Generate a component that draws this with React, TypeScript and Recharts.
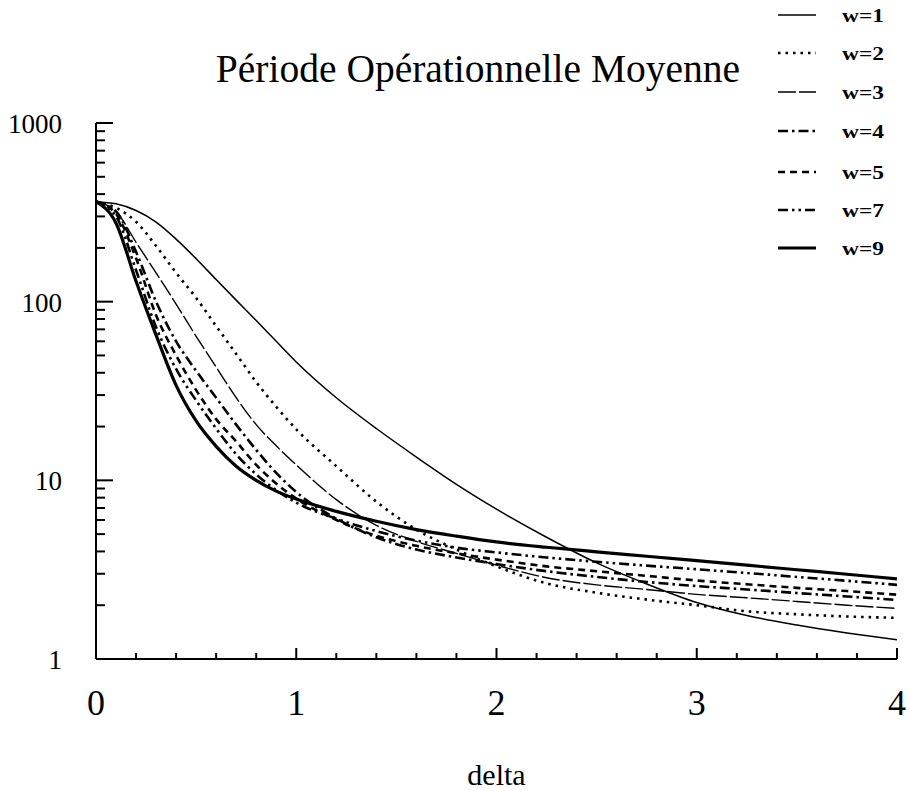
import React from 'react';
import { LineChart, Line, XAxis, YAxis, Legend } from 'recharts';

// ---- data ----
const deltaValues = [0, 0.1, 0.2, 0.3, 0.4, 0.5, 0.6, 0.7, 0.8, 0.9, 1.0, 1.2, 1.4, 1.6, 1.8, 2.0, 2.25, 2.5, 2.75, 3.0, 3.25, 3.5, 3.75, 4.0];

const w1Values = [363, 353, 324, 279, 224, 174, 133, 102, 78.5, 60, 46, 29, 19.5, 13.5, 9.5, 6.9, 4.8, 3.45, 2.63, 2.07, 1.75, 1.55, 1.4, 1.28];
const w2Values = [363, 335, 280, 205, 145, 105, 73, 51, 35.5, 25.8, 19.3, 12, 7.6, 5.3, 4.1, 3.3, 2.65, 2.35, 2.15, 2.0, 1.85, 1.78, 1.73, 1.7];
const w3Values = [363, 320, 215, 145, 97, 64, 43, 29, 20.5, 15.6, 12.2, 7.8, 5.6, 4.55, 3.9, 3.35, 2.85, 2.6, 2.45, 2.3, 2.2, 2.1, 2.0, 1.92];
const w4Values = [363, 320, 190, 100, 60, 41, 29, 20.5, 14.8, 11, 8.6, 6.1, 4.8, 4.1, 3.7, 3.4, 3.1, 2.88, 2.7, 2.56, 2.45, 2.34, 2.24, 2.14];
const w5Values = [363, 310, 175, 84, 50, 32, 22, 16.5, 12.2, 9.6, 7.9, 6.0, 4.9, 4.3, 3.9, 3.6, 3.3, 3.1, 2.92, 2.75, 2.62, 2.5, 2.4, 2.29];
const w7Values = [363, 300, 150, 72, 42, 28, 19.5, 14, 10.8, 8.8, 7.5, 6.1, 5.2, 4.6, 4.2, 3.95, 3.7, 3.5, 3.33, 3.18, 3.03, 2.88, 2.74, 2.6];
const w9Values = [363, 275, 130, 65, 34, 21.5, 15.5, 12, 10, 8.7, 7.85, 6.7, 5.9, 5.3, 4.87, 4.52, 4.22, 3.98, 3.76, 3.55, 3.35, 3.16, 2.98, 2.81];

const xTicks = [0, 0.2, 0.4, 0.6, 0.8, 1, 1.2, 1.4, 1.6, 1.8, 2, 2.2, 2.4, 2.6, 2.8, 3, 3.2, 3.4, 3.6, 3.8, 4];
const yTicks = [1, 2, 3, 4, 5, 6, 7, 8, 9, 10, 20, 30, 40, 50, 60, 70, 80, 90, 100, 200, 300, 400, 500, 600, 700, 800, 900, 1000];
const yMajorTicks = [1, 10, 100, 1000];

const titleText = 'Période Opérationnelle Moyenne';
const xAxisTitle = 'delta';

const seriesList = [
  { key: 'w1', name: 'w=1', values: w1Values, width: 1.5, dash: undefined as string | undefined },
  { key: 'w2', name: 'w=2', values: w2Values, width: 2.6, dash: '2.5 5' },
  { key: 'w3', name: 'w=3', values: w3Values, width: 1.4, dash: '18 3' },
  { key: 'w4', name: 'w=4', values: w4Values, width: 2.6, dash: '10 4 2.5 4' },
  { key: 'w5', name: 'w=5', values: w5Values, width: 2.6, dash: '7 5' },
  { key: 'w7', name: 'w=7', values: w7Values, width: 2.6, dash: '10 4 2.5 4 2.5 4' },
  { key: 'w9', name: 'w=9', values: w9Values, width: 3.2, dash: undefined as string | undefined },
];

const data = deltaValues.map((d, i) => {
  const row: Record<string, number> = { delta: d };
  seriesList.forEach((s) => {
    row[s.key] = s.values[i];
  });
  return row;
});

const SERIF = "'Liberation Serif', 'Times New Roman', Times, serif";

const YTick = (props: any) => {
  const { x, y, payload } = props;
  const v = payload.value;
  const major = yMajorTicks.includes(v);
  const len = major ? 17 : 9;
  return (
    <g>
      <line x1={x} x2={x + len} y1={y} y2={y} stroke="#000" strokeWidth={2} />
      {major && (
        <text x={62} y={y + 10} textAnchor="end" fontSize={27} fontFamily={SERIF} fill="#000">
          {v}
        </text>
      )}
    </g>
  );
};

const XTick = (props: any) => {
  const { x, y, payload } = props;
  const v = payload.value;
  const major = Math.abs(v - Math.round(v)) < 1e-6;
  const len = major ? 11 : 6;
  return (
    <g>
      <line x1={x} x2={x} y1={y} y2={y - len} stroke="#000" strokeWidth={2} />
      {major && (
        <text x={x} y={y + 56} textAnchor="middle" fontSize={36} fontFamily={SERIF} fill="#000">
          {Math.round(v)}
        </text>
      )}
    </g>
  );
};

const DeltaLabel = (props: any) => {
  const vb = props.viewBox || {};
  const cx = vb.x !== undefined ? vb.x + vb.width / 2 : 496;
  const top = vb.y !== undefined ? vb.y : 659;
  return (
    <text x={cx} y={top + 126} textAnchor="middle" fontSize={30} fontFamily={SERIF} fill="#000">
      {xAxisTitle}
    </text>
  );
};

const legendRowsY = [15, 53, 92, 131, 172, 210, 248];

const renderLegend = (props: any) => {
  const payload: any[] = props.payload || [];
  return (
    <svg width={140} height={270} style={{ display: 'block' }}>
      {payload.map((entry: any, i: number) => {
        const s = seriesList.find((q) => q.key === entry.dataKey) || seriesList[i];
        const cy = legendRowsY[i];
        return (
          <g key={s.key}>
            <line x1={8} x2={46} y1={cy} y2={cy} stroke="#000" strokeWidth={s.width} strokeDasharray={s.dash} />
            <text
              x={72}
              y={cy + 6.5}
              fontSize={18.5}
              fontWeight="bold"
              fontFamily={SERIF}
              fill="#000"
              textLength={42}
              lengthAdjust="spacingAndGlyphs"
            >
              {entry.value}
            </text>
          </g>
        );
      })}
    </svg>
  );
};

export default function App() {
  return (
    <div style={{ position: 'fixed', left: 0, top: 0, width: 910, height: 790, background: '#fff' }}>
      <LineChart width={910} height={790} data={data} margin={{ top: 123, right: 13, bottom: 31, left: 6 }}>
        <XAxis
          dataKey="delta"
          type="number"
          domain={[0, 4]}
          ticks={xTicks}
          interval={0}
          tickSize={0}
          tickMargin={0}
          tickLine={false}
          tick={<XTick />}
          axisLine={{ stroke: '#000', strokeWidth: 2 }}
          height={100}
          allowDataOverflow
          label={<DeltaLabel />}
        />
        <YAxis
          type="number"
          scale="log"
          domain={[1, 1000]}
          ticks={yTicks}
          interval={0}
          tickSize={0}
          tickMargin={0}
          tickLine={false}
          tick={<YTick />}
          axisLine={{ stroke: '#000', strokeWidth: 2 }}
          width={90}
          allowDataOverflow
        />
        <Legend
          layout="vertical"
          align="center"
          verticalAlign="middle"
          content={renderLegend}
          wrapperStyle={{ position: 'absolute', left: 770, top: 0, width: 140, height: 270 }}
        />
        {seriesList.map((s) => (
          <Line
            key={s.key}
            type="monotone"
            dataKey={s.key}
            name={s.name}
            stroke="#000"
            strokeWidth={s.width}
            strokeDasharray={s.dash}
            dot={false}
            activeDot={false}
            isAnimationActive={false}
          />
        ))}
      </LineChart>
      <svg
        width={910}
        height={110}
        style={{ position: 'absolute', left: 0, top: 0, pointerEvents: 'none' }}
      >
        <text x={478} y={82} textAnchor="middle" fontSize={39.5} fontFamily={SERIF} fill="#000">
          {titleText}
        </text>
      </svg>
    </div>
  );
}
